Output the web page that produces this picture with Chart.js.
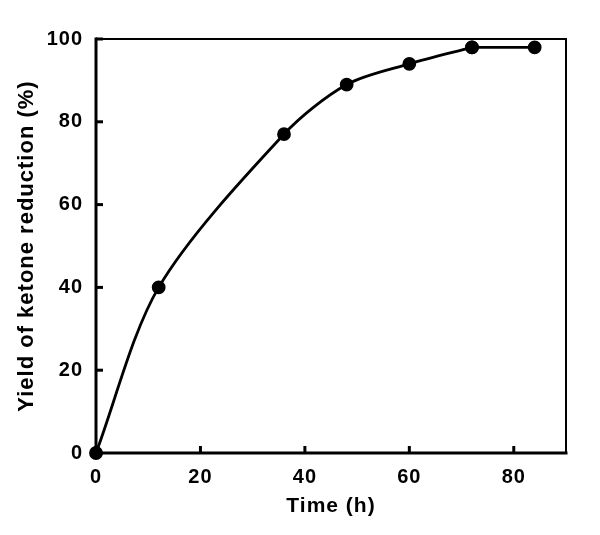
<!DOCTYPE html>
<html>
<head>
<meta charset="utf-8">
<script src="https://cdn.jsdelivr.net/npm/chart.js@4"></script>
<style>
html, body { margin: 0; padding: 0; background: #fff; }
</style>
</head>
<body>
<canvas id="yieldChart" width="600" height="535"></canvas>
<script>
// data
var timeH = [0, 12, 36, 48, 60, 72, 84];
var yieldPct = [0, 40, 77, 89, 94, 98, 98];
var xTicks = [0, 20, 40, 60, 80];
var yTicks = [0, 20, 40, 60, 80, 100];

var ctx = document.getElementById("yieldChart");

const points = timeH.map((t, i) => ({x: t, y: yieldPct[i]}));
// the curve bends up to the plateau, then runs flat to the last point
const rising = points.slice(0, 6);
const plateau = points.slice(5);

// a bit wider lettering, like the original
const spacing = {
    id: 'spacing',
    beforeUpdate: (chart) => { chart.ctx.letterSpacing = '1px'; },
    beforeDraw: (chart) => { chart.ctx.letterSpacing = '1px'; }
};

// box round the plot and inward tick marks
const frame = {
    id: 'frame',
    beforeDatasetsDraw: (chart) => {
        let c = chart.ctx;
        let a = chart.chartArea;
        let xs = chart.scales.x;
        let ys = chart.scales.y;
        c.save();
        c.strokeStyle = '#000';
        c.lineCap = 'square';
        // top + right, thinner
        c.lineWidth = 2;
        c.beginPath();
        c.moveTo(a.left, a.top);
        c.lineTo(a.right, a.top);
        c.lineTo(a.right, a.bottom);
        c.stroke();
        // left + bottom
        c.lineWidth = 3;
        c.beginPath();
        c.moveTo(a.left, a.top);
        c.lineTo(a.left, a.bottom);
        c.lineTo(a.right, a.bottom);
        c.stroke();
        c.lineCap = 'butt';
        xTicks.forEach((v) => {
            let px = xs.getPixelForValue(v);
            c.beginPath();
            c.moveTo(px, a.bottom);
            c.lineTo(px, a.bottom - 7);
            c.stroke();
        });
        yTicks.forEach((v) => {
            let py = ys.getPixelForValue(v);
            c.beginPath();
            c.moveTo(a.left, py);
            c.lineTo(a.left + 7, py);
            c.stroke();
        });
        c.restore();
    }
};

const lineStyle = {
    borderColor: '#000',
    backgroundColor: '#000',
    borderWidth: 2.8,
    pointRadius: 5.5,
    pointHoverRadius: 5.5,
    clip: false
};

var yieldChart = new Chart(ctx, {
    type: 'line',
    data: {
        datasets: [
            Object.assign({label: 'Yield', data: rising, tension: 0.3}, lineStyle),
            Object.assign({label: 'Yield (plateau)', data: plateau, tension: 0}, lineStyle)
        ]
    },
    options: {
        responsive: false,
        animation: false,
        layout: {padding: {left: 0, top: 39, right: 34, bottom: 0}},
        plugins: {
            legend: {display: false},
            tooltip: {enabled: false}
        },
        scales: {
            x: {
                type: 'linear',
                min: 0,
                max: 90,
                afterBuildTicks: (s) => { s.ticks = xTicks.map((v) => ({value: v})); },
                afterFit: (s) => { s.height = 82; },
                grid: {display: false, drawTicks: false},
                border: {display: false},
                ticks: {
                    color: '#000',
                    padding: 12,
                    maxRotation: 0,
                    font: {family: 'Liberation Sans, Arial, sans-serif', size: 20, weight: 'bold'}
                },
                title: {
                    display: true,
                    text: 'Time (h)',
                    color: '#000',
                    padding: {top: 0, bottom: 16},
                    font: {family: 'Liberation Sans, Arial, sans-serif', size: 21, weight: 'bold'}
                }
            },
            y: {
                min: 0,
                max: 100,
                afterBuildTicks: (s) => { s.ticks = yTicks.map((v) => ({value: v})); },
                afterFit: (s) => { s.width = 96; },
                grid: {display: false, drawTicks: false},
                border: {display: false},
                ticks: {
                    color: '#000',
                    padding: 13,
                    font: {family: 'Liberation Sans, Arial, sans-serif', size: 20, weight: 'bold'}
                },
                title: {
                    display: true,
                    text: 'Yield of ketone reduction (%)',
                    color: '#000',
                    padding: {top: 14, bottom: 0},
                    font: {family: 'Liberation Sans, Arial, sans-serif', size: 22, weight: 'bold'}
                }
            }
        }
    },
    plugins: [spacing, frame]
});
</script>
</body>
</html>
